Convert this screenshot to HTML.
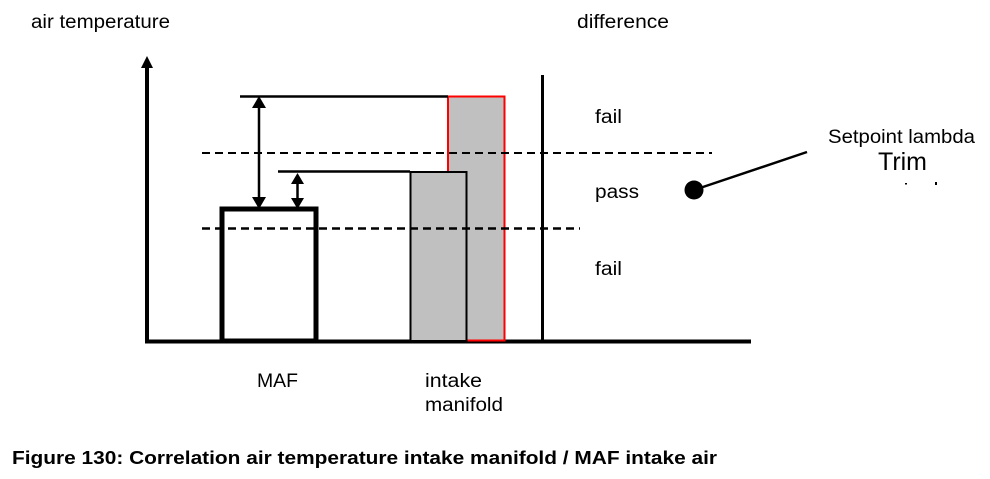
<!DOCTYPE html>
<html><head><style>
body{margin:0;background:#fff;}
svg{display:block;}
text{font-family:"Liberation Sans",Arial,sans-serif;fill:#000;}
</style></head><body>
<svg width="990" height="479" viewBox="0 0 990 479">
<text x="31" y="28" font-size="19" textLength="139" lengthAdjust="spacingAndGlyphs">air temperature</text>
<text x="577" y="28" font-size="19" textLength="92" lengthAdjust="spacingAndGlyphs">difference</text>
<!-- axes -->
<line x1="147" y1="66" x2="147" y2="343" stroke="#000" stroke-width="4"/>
<polygon points="141,68 153,68 147,56" fill="#000"/>
<line x1="145" y1="341.5" x2="751" y2="341.5" stroke="#000" stroke-width="4"/>
<line x1="542.5" y1="75" x2="542.5" y2="341" stroke="#000" stroke-width="3"/>
<!-- bars -->
<rect x="448" y="96.5" width="56.5" height="244" fill="#c0c0c0" stroke="#f00" stroke-width="2"/>
<rect x="410.5" y="172" width="56" height="169" fill="#c0c0c0" stroke="#000" stroke-width="2"/>
<rect x="222" y="209" width="94" height="132" fill="none" stroke="#000" stroke-width="5"/>
<line x1="240" y1="96.5" x2="448" y2="96.5" stroke="#000" stroke-width="2.5"/>
<line x1="278" y1="171.5" x2="410" y2="171.5" stroke="#000" stroke-width="2.5"/>
<!-- dashed -->
<line x1="202" y1="153" x2="712" y2="153" stroke="#000" stroke-width="2" stroke-dasharray="8,5"/>
<line x1="202" y1="228.5" x2="580" y2="228.5" stroke="#000" stroke-width="2.5" stroke-dasharray="8,5"/>
<!-- arrows -->
<line x1="259" y1="104" x2="259" y2="200" stroke="#000" stroke-width="2.5"/>
<polygon points="252,108 266,108 259,96" fill="#000"/>
<polygon points="252,197 266,197 259,209" fill="#000"/>
<line x1="297.5" y1="180" x2="297.5" y2="200" stroke="#000" stroke-width="2.5"/>
<polygon points="291,184 304,184 297.5,173" fill="#000"/>
<polygon points="291,198 304,198 297.5,209" fill="#000"/>
<!-- labels -->
<text x="595" y="123" font-size="19" textLength="27" lengthAdjust="spacingAndGlyphs">fail</text>
<text x="595" y="198" font-size="19" textLength="44" lengthAdjust="spacingAndGlyphs">pass</text>
<text x="595" y="275" font-size="19" textLength="27" lengthAdjust="spacingAndGlyphs">fail</text>
<circle cx="694" cy="190" r="9.5" fill="#000"/>
<line x1="694" y1="190" x2="807" y2="152" stroke="#000" stroke-width="2.5"/>
<text x="828" y="143" font-size="19" textLength="147" lengthAdjust="spacingAndGlyphs">Setpoint lambda</text>
<text x="878" y="170" font-size="25" textLength="49" lengthAdjust="spacingAndGlyphs">Trim</text>
<rect x="905" y="183" width="2" height="1.5" fill="#000"/>
<rect x="935" y="182" width="2" height="3" fill="#000"/>
<text x="257" y="387" font-size="19" textLength="41" lengthAdjust="spacingAndGlyphs">MAF</text>
<text x="425" y="387" font-size="19" textLength="57" lengthAdjust="spacingAndGlyphs">intake</text>
<text x="425" y="411" font-size="19" textLength="78" lengthAdjust="spacingAndGlyphs">manifold</text>
<text x="12" y="464" font-size="18" font-weight="bold" textLength="705" lengthAdjust="spacingAndGlyphs">Figure 130: Correlation air temperature intake manifold / MAF intake air</text>
</svg>
</body></html>
